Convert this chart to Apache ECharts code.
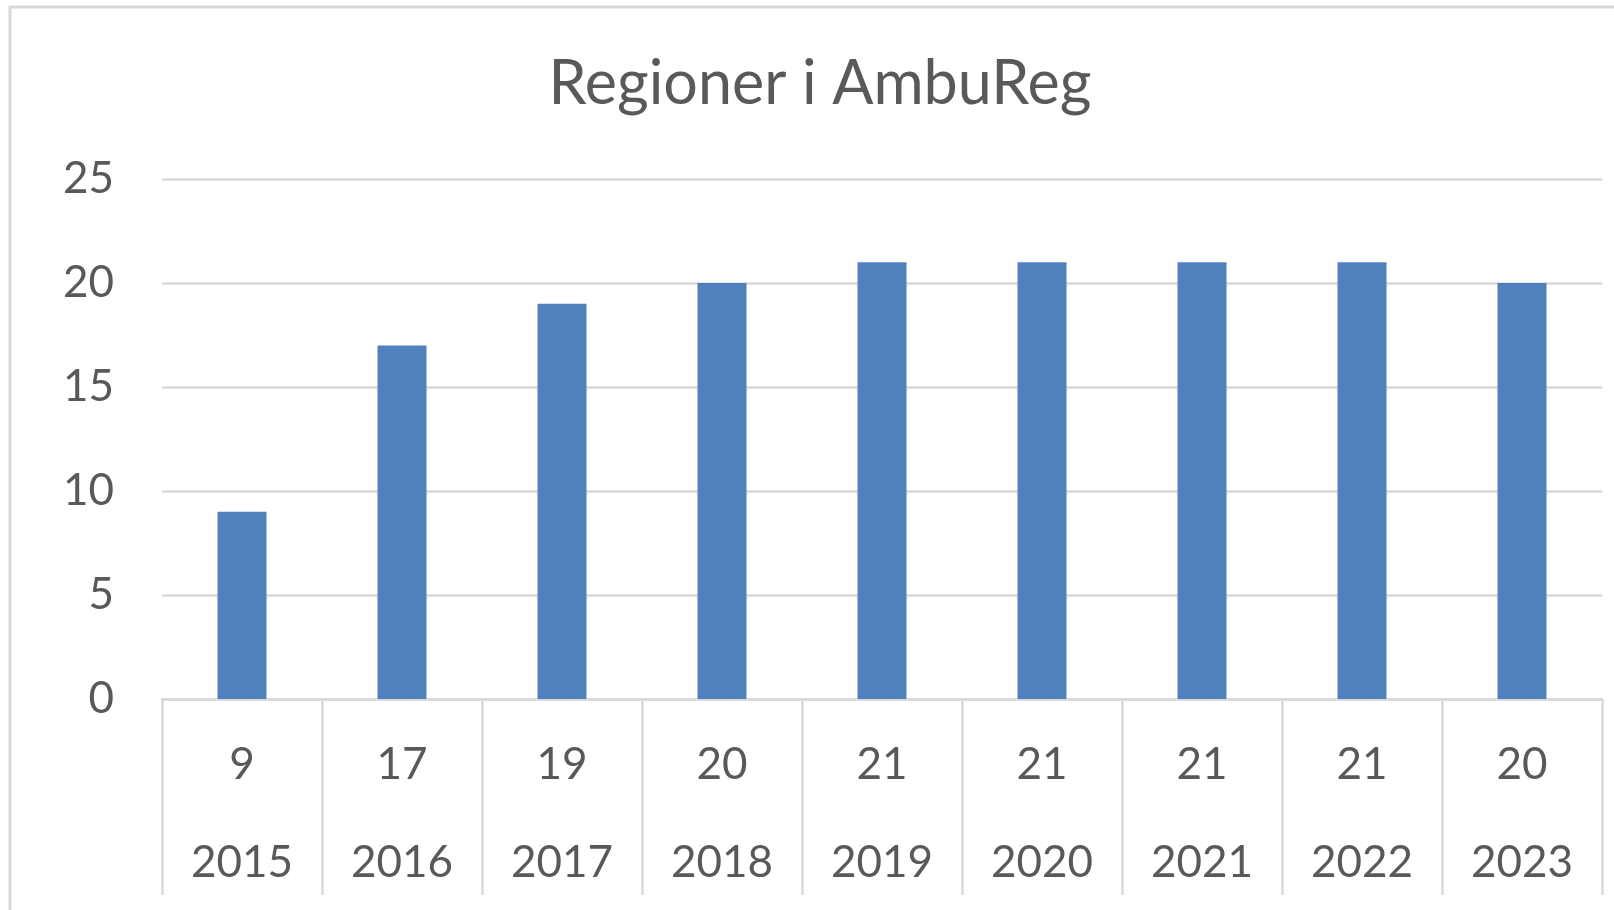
<!DOCTYPE html>
<html>
<head>
  <meta charset="UTF-8">
  <title>Regioner i AmbuReg</title>
  <script src="https://cdn.jsdelivr.net/npm/echarts@6/dist/echarts.min.js"></script>
  <style>
    * { margin: 0; padding: 0; }
    html, body { width: 100%; height: 100%; background: #fff; }
    #main { width: 1614px; height: 910px; }
  </style>
</head>
<body>
  <div id="main"></div>
  <script>
    // data
    var years = ['2015', '2016', '2017', '2018', '2019', '2020', '2021', '2022', '2023'];
    var regioner = [9, 17, 19, 20, 21, 21, 21, 21, 20];
    var yTicks = [0, 5, 10, 15, 20, 25];

    var gray = '#d9d9d9';
    var txt = '#595959';
    var font = 'Lato';

    var myChart = echarts.init(document.getElementById('main'));
    var option = {
      backgroundColor: '#fff',
      animation: false,
      title: {
        text: 'Regioner i AmbuReg',
        left: 815,
        textAlign: 'center',
        top: 49,
        textStyle: { color: txt, fontFamily: font, fontWeight: 'normal', fontSize: 61 }
      },
      graphic: [{
        // outer chart frame (right/bottom edges fall outside the picture)
        type: 'rect',
        shape: { x: 10, y: 7, width: 1700, height: 1000 },
        style: { fill: 'none', stroke: gray, lineWidth: 3 },
        silent: true
      }],
      grid: { left: 162, right: 12, top: 179, bottom: 211 },
      xAxis: {
        type: 'category',
        data: years,
        axisLine: { show: true, lineStyle: { color: gray, width: 2.5 } },
        axisTick: { show: true, length: 196, lineStyle: { color: gray, width: 2.5 } },
        axisLabel: {
          margin: 17,
          formatter: function (v, i) { return '{a|' + regioner[i] + '}\n{a|' + v + '}'; },
          rich: { a: { color: txt, fontFamily: font, fontSize: 44, lineHeight: 98 } }
        }
      },
      yAxis: {
        type: 'value',
        min: yTicks[0],
        max: yTicks[yTicks.length - 1],
        interval: 5,
        axisLine: { show: false },
        axisTick: { show: false },
        splitLine: { lineStyle: { color: gray, width: 2.5 } },
        axisLabel: { color: txt, fontFamily: font, fontSize: 44, margin: 48 }
      },
      series: [{
        type: 'bar',
        data: regioner,
        barWidth: 49,
        itemStyle: { color: '#4f81bd' }
      }]
    };
    myChart.setOption(option);
  </script>
</body>
</html>
